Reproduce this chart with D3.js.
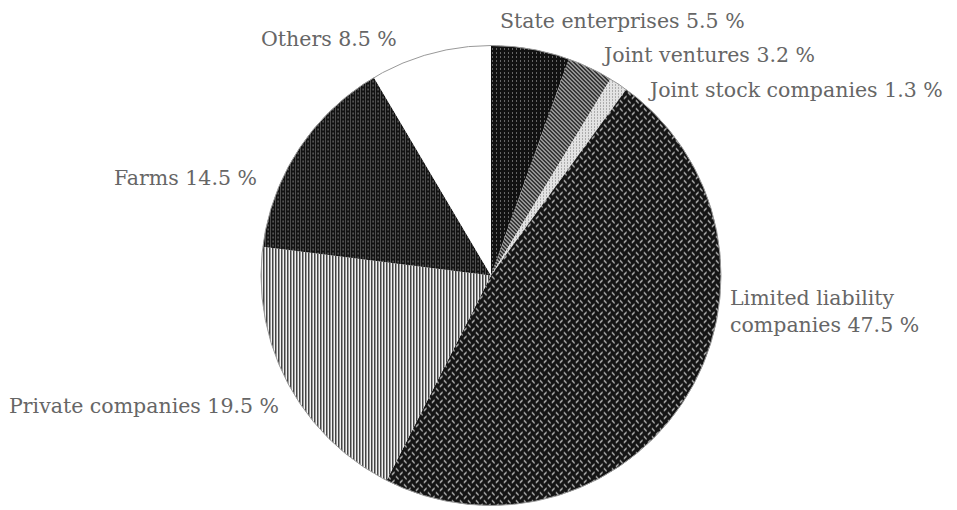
<!DOCTYPE html>
<html><head><meta charset="utf-8">
<script src="https://cdn.jsdelivr.net/npm/d3@7"></script>
<style>html,body{margin:0;padding:0;background:#fff;}svg{display:block;}</style>
</head><body><svg id="chart" width="957" height="510"></svg>
<script>
const categories = ["State enterprises", "Joint ventures", "Joint stock companies", "Limited liability companies", "Private companies", "Farms", "Others"];
const values = [5.5, 3.2, 1.3, 47.5, 19.5, 14.5, 8.5];
const labelLines = [
  ["State enterprises 5.5 %"],
  ["Joint ventures 3.2 %"],
  ["Joint stock companies 1.3 %"],
  ["Limited liability", "companies 47.5 %"],
  ["Private companies 19.5 %"],
  ["Farms 14.5 %"],
  ["Others 8.5 %"]
];

// layout (kept apart from data)
const W = 957, H = 510, cx = 491, cy = 275.5, R = 230;
const labelPos = [[500, 28], [604, 62], [650, 97], [730, 305], [9, 413], [114, 185], [261, 46]];

const svg = d3.select("#chart");
const defs = svg.append("defs");

function pat(id, w, h, bg, draw) {
  const p = defs.append("pattern").attr("id", id).attr("patternUnits", "userSpaceOnUse")
    .attr("width", w).attr("height", h);
  p.append("rect").attr("width", w).attr("height", h).attr("fill", bg);
  draw(p);
}
// State enterprises: black with small white dots
pat("pState", 4, 4, "#111", p => {
  p.append("rect").attr("x", 1).attr("y", 1).attr("width", 1).attr("height", 1).attr("fill", "#bbb");
});
// Joint ventures: diagonal hatch
pat("pJV", 4, 4, "#ddd", p => {
  p.append("path").attr("d", "M-1,-1 L5,5 M-1,3 L1,5 M3,-1 L5,1").attr("stroke", "#1a1a1a").attr("stroke-width", 1.7);
});
// Joint stock: light stipple
pat("pJS", 3, 3, "#e2e2e2", p => {
  p.append("rect").attr("x", 1).attr("y", 1).attr("width", 1).attr("height", 1).attr("fill", "#777");
});
// Limited liability: black with white herringbone dashes
pat("pLL", 8, 8, "#151515", p => {
  p.append("path").attr("d", "M1.2,1.2 L3.3,3.3 M5.2,7 L7.3,4.9").attr("stroke", "#e0e0e0").attr("stroke-width", 1.1).attr("stroke-linecap", "round");
});
// Private companies: vertical fine lines
pat("pPC", 3, 3, "#f2f2f2", p => {
  p.append("rect").attr("x", 0).attr("y", 0).attr("width", 1.5).attr("height", 3).attr("fill", "#444");
});
// Farms: black with white grid dots
pat("pFarms", 5, 4, "#121212", p => {
  p.append("rect").attr("x", 1.5).attr("y", 1.5).attr("width", 1.2).attr("height", 1).attr("fill", "#ccc");
  p.append("rect").attr("x", 4).attr("y", 0).attr("width", 0.6).attr("height", 4).attr("fill", "#777");
});
const fills = ["url(#pState)", "url(#pJV)", "url(#pJS)", "url(#pLL)", "url(#pPC)", "url(#pFarms)", "#ffffff"];

const data = categories.map((c, i) => ({ cat: c, value: values[i], fill: fills[i], lines: labelLines[i], pos: labelPos[i] }));

const pie = d3.pie().sort(null).value(d => d.value);
const arc = d3.arc().innerRadius(0).outerRadius(R);
const g = svg.append("g").attr("transform", `translate(${cx},${cy})`);
const arcs = pie(data);
g.selectAll("path.slice").data(arcs).join("path").attr("class", "slice")
  .attr("d", arc).attr("fill", d => d.data.fill).attr("stroke", "none");
g.append("circle").attr("r", R).attr("fill", "none").attr("stroke", "#999").attr("stroke-width", 1);

const lab = svg.append("g").attr("font-family", "'DejaVu Serif', serif").attr("font-size", 20.5).attr("fill", "#666");
data.forEach(d => {
  const t = lab.append("text").attr("x", d.pos[0]).attr("y", d.pos[1]);
  d.lines.forEach((ln, j) => {
    t.append("tspan").attr("x", d.pos[0]).attr("dy", j === 0 ? 0 : 27).text(ln);
  });
});
</script></body></html>
